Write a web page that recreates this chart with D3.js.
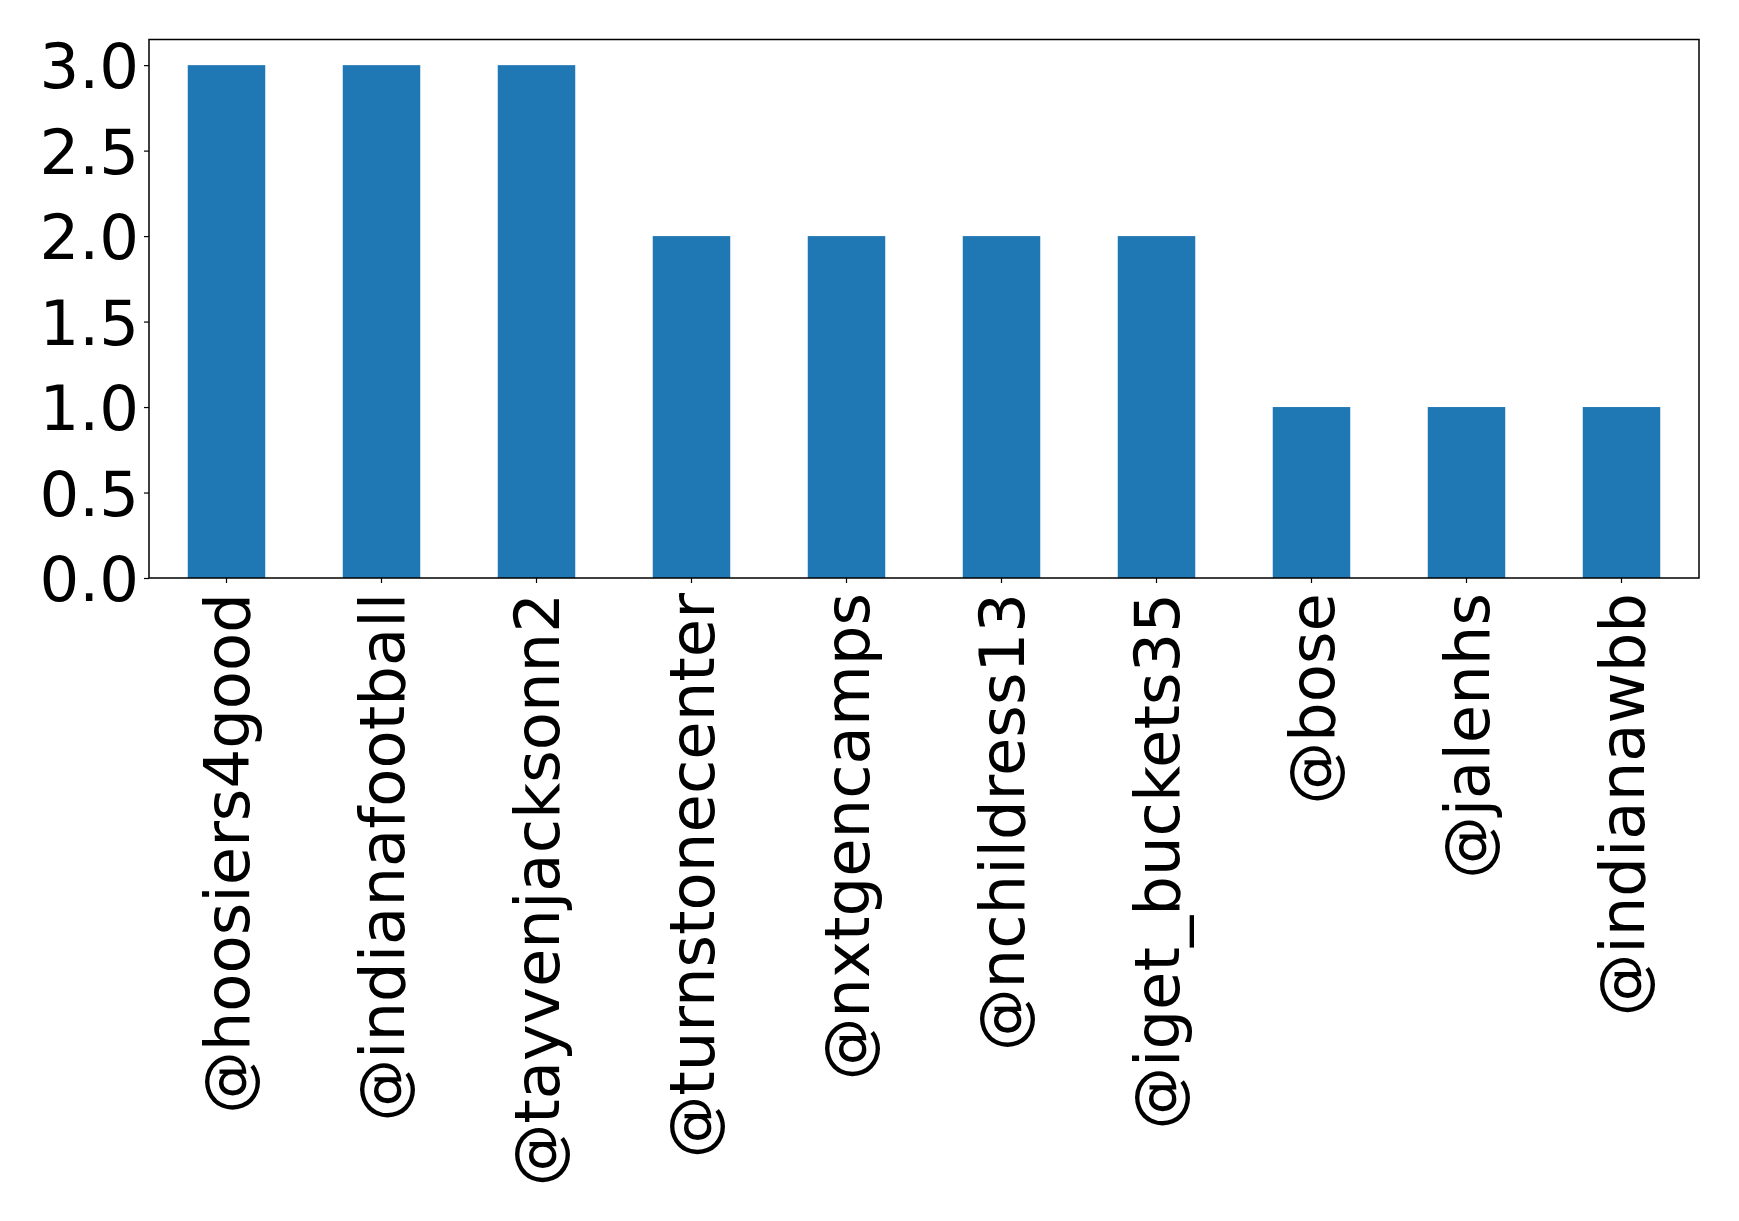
<!DOCTYPE html>
<html>
<head>
<meta charset="utf-8">
<script src="https://cdn.jsdelivr.net/npm/d3@7"></script>
<style>
  body { margin: 0; background: #fff; }
  text { font-family: "DejaVu Sans", sans-serif; }
</style>
</head>
<body>
<script>
// chart data
var handles = ["@hoosiers4good", "@indianafootball", "@tayvenjacksonn2", "@turnstonecenter",
               "@nxtgencamps", "@nchildress13", "@iget_buckets35", "@bose", "@jalenhs", "@indianawbb"];
var counts = [3, 3, 3, 2, 2, 2, 2, 1, 1, 1];
var yTicks = [0, 0.5, 1, 1.5, 2, 2.5, 3];

var width = 1739, height = 1221;
var margin = {top: 39.5, right: 40, bottom: 643, left: 149};
var innerW = width - margin.left - margin.right;
var innerH = height - margin.top - margin.bottom;
var fontSize = 62.5;

var svg = d3.select("body").append("svg")
    .attr("width", width)
    .attr("height", height);

var g = svg.append("g")
    .attr("transform", "translate(" + margin.left + "," + margin.top + ")");

// matplotlib style: bar width 0.5 on a -0.5..n-0.5 range
var x = d3.scaleBand()
    .domain(handles)
    .range([0, innerW])
    .paddingInner(0.5)
    .paddingOuter(0.25);

var y = d3.scaleLinear()
    .domain([0, 3.15])
    .range([innerH, 0]);

g.selectAll("rect.bar")
    .data(handles)
    .enter()
    .append("rect")
    .attr("class", "bar")
    .attr("x", function(d) { return x(d); })
    .attr("y", function(d, i) { return y(counts[i]); })
    .attr("width", x.bandwidth())
    .attr("height", function(d, i) { return innerH - y(counts[i]); })
    .attr("fill", "#1f77b4");

// y axis
var yAxis = g.append("g")
    .call(d3.axisLeft(y).tickValues(yTicks).tickFormat(d3.format(".1f")).tickSize(5).tickPadding(5));
yAxis.select(".domain").remove();
yAxis.selectAll("text")
    .attr("font-size", fontSize)
    .attr("font-family", "DejaVu Sans")
    .attr("fill", "#000")
    .attr("dy", "0.36em");
yAxis.selectAll("line").attr("stroke", "#000").attr("stroke-width", 1.2);

// x axis
var xAxis = g.append("g")
    .attr("transform", "translate(0," + innerH + ")")
    .call(d3.axisBottom(x).tickSize(5).tickPadding(10));
xAxis.select(".domain").remove();
xAxis.selectAll("line").attr("stroke", "#000").attr("stroke-width", 1.2);
xAxis.selectAll("text")
    .attr("font-size", fontSize)
    .attr("font-family", "DejaVu Sans")
    .attr("fill", "#000")
    .attr("text-anchor", "end")
    .attr("transform", "rotate(-90)")
    .attr("x", -15)
    .attr("y", 0)
    .attr("dy", "0.36em");

// frame
g.append("rect")
    .attr("width", innerW)
    .attr("height", innerH)
    .attr("fill", "none")
    .attr("stroke", "#000")
    .attr("stroke-width", 1.5);
</script>
</body>
</html>
